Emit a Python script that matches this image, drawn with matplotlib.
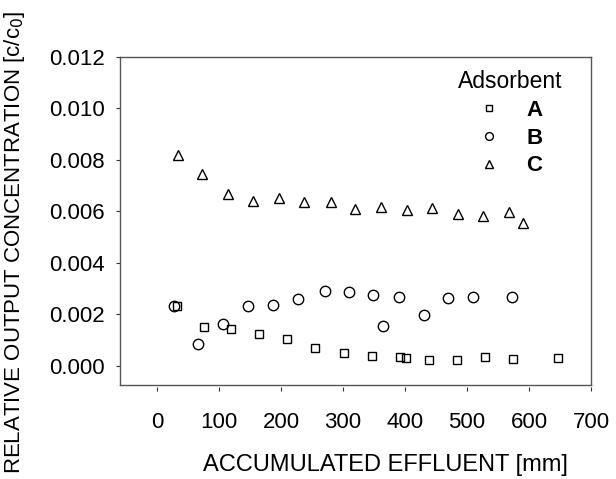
import matplotlib.pyplot as plt

plt.rcParams['font.family'] = ['Liberation Sans', 'DejaVu Sans']

# adsorbent A (squares)
a_x = [32, 75, 119, 165, 210, 254, 302, 347, 392, 401, 438, 484, 529, 574, 647]
a_y = [0.00231, 0.00151, 0.00142, 0.00123, 0.00105, 0.00070, 0.00049, 0.00039,
       0.00033, 0.00029, 0.00022, 0.00023, 0.00034, 0.00027, 0.00030]

# adsorbent B (circles)
b_x = [27, 66, 107, 147, 187, 228, 270, 309, 349, 364, 390, 430, 470, 510, 573]
b_y = [0.00231, 0.00083, 0.00162, 0.00231, 0.00235, 0.00260, 0.00292, 0.00287,
       0.00274, 0.00155, 0.00269, 0.00198, 0.00262, 0.00269, 0.00266]

# adsorbent C (triangles)
c_x = [34, 73, 114, 155, 196, 237, 280, 320, 361, 403, 444, 486, 526, 568, 591]
c_y = [0.00820, 0.00745, 0.00668, 0.00642, 0.00653, 0.00636, 0.00636, 0.00610,
       0.00616, 0.00604, 0.00614, 0.00588, 0.00584, 0.00597, 0.00555]

x_ticks = [0, 100, 200, 300, 400, 500, 600, 700]
y_ticks = [0.000, 0.002, 0.004, 0.006, 0.008, 0.010, 0.012]

fig = plt.figure(figsize=(6.16, 4.79), dpi=100)
ax = fig.add_axes([0.1948, 0.196, 0.7646, 0.685])

mk = dict(linestyle='none', markerfacecolor='none', markeredgecolor='black',
          markeredgewidth=1.0)
ax.plot(a_x, a_y, marker='s', markersize=6, label='A', **mk)
ax.plot(b_x, b_y, marker='o', markersize=7.5, label='B', **mk)
ax.plot(c_x, c_y, marker='^', markersize=7, label='C', **mk)

ax.set_xlim(-60, 700)
ax.set_ylim(-0.00075, 0.012)

for s in ax.spines.values():
    s.set_color('#555555')
    s.set_linewidth(1.0)

ax.set_yticks(y_ticks)
ax.set_yticklabels(['%.3f' % v for v in y_ticks])
ax.tick_params(axis='y', direction='out', length=3, width=0.8, pad=8,
               labelsize=16, color='#333333')
ax.tick_params(axis='x', bottom=False, labelbottom=False)

# offset x axis with ticks hanging below the frame
sec = ax.secondary_xaxis(-0.007)
sec.set_xticks(x_ticks)
sec.spines['bottom'].set_visible(False)
sec.tick_params(direction='out', length=3, width=0.8, pad=15, labelsize=16,
                color='#333333')

ax.set_ylabel('RELATIVE OUTPUT CONCENTRATION [c/c$_0$]', fontsize=16)
ax.yaxis.set_label_coords(-0.197, 0.436)
fig.text(0.625, 0.006, 'ACCUMULATED EFFLUENT [mm]', fontsize=17,
         ha='center', va='bottom')

leg = ax.legend(title='Adsorbent', frameon=False, loc='upper left',
                bbox_to_anchor=(0.675, 1.02), prop={'weight': 'bold', 'size': 16},
                title_fontsize=16.5, markerscale=0.75, handletextpad=1.2,
                handlelength=1.0, labelspacing=0.3)

fig.savefig('out.png', dpi=100)
